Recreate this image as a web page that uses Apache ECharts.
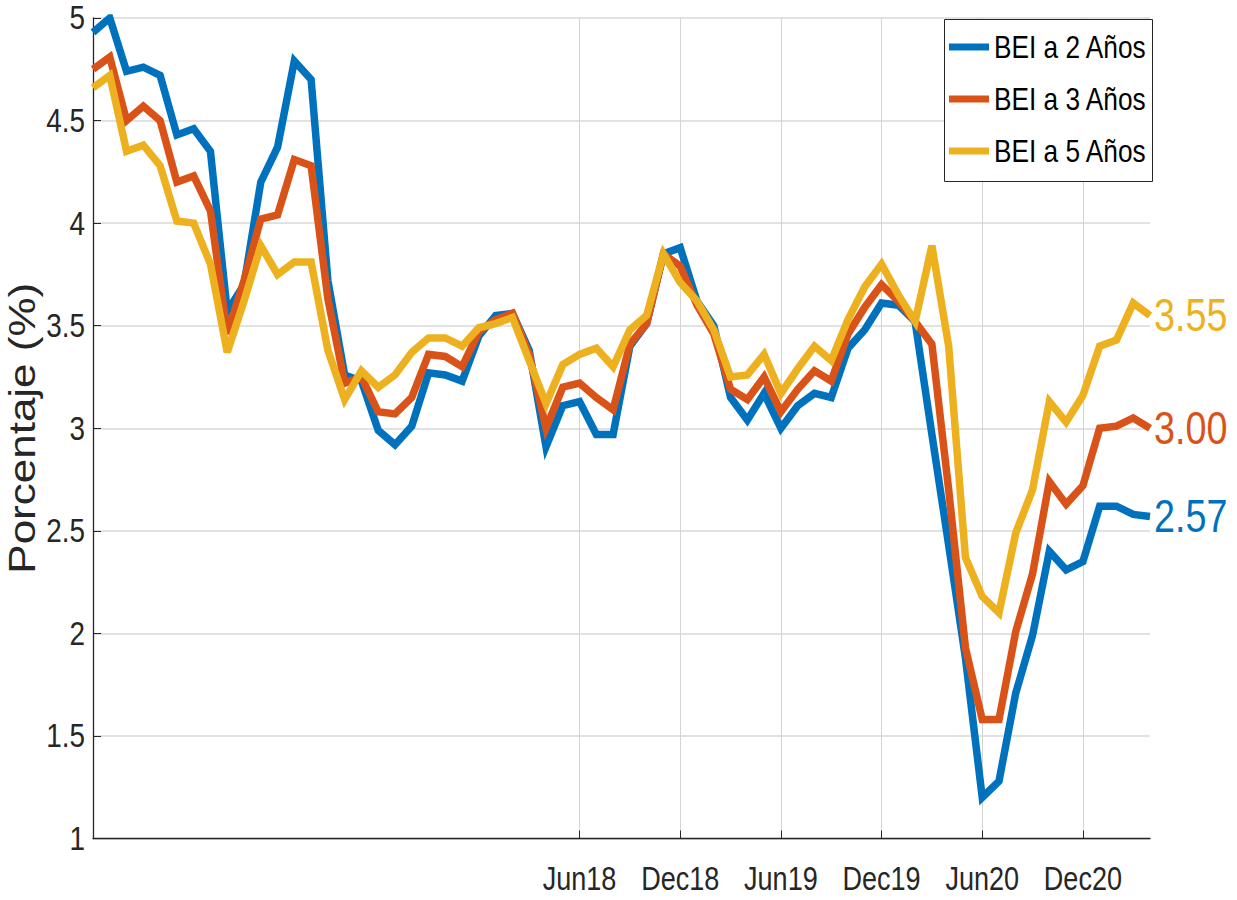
<!DOCTYPE html>
<html>
<head>
<meta charset="utf-8">
<script src="https://cdn.jsdelivr.net/npm/echarts@6/dist/echarts.min.js"></script>
<style>
  html, body { margin: 0; padding: 0; background: #fff; }
  #chart { width: 1237px; height: 900px; }
</style>
</head>
<body>
<div id="chart"></div>
<script>
// Monthly break-even inflation, Jan 2016 – Apr 2021
const monthNames = ['Jan','Feb','Mar','Apr','May','Jun','Jul','Aug','Sep','Oct','Nov','Dec'];
const categories = [];
for (let y = 16; y <= 21; y++) {
  for (let m = 0; m < 12; m++) {
    if (y === 21 && m > 3) break;
    categories.push(monthNames[m] + y);
  }
}
const tickLabels = ['Jun18', 'Dec18', 'Jun19', 'Dec19', 'Jun20', 'Dec20'];

const bei2 = [4.93, 5.00, 4.74, 4.76, 4.72, 4.43, 4.46, 4.35, 3.57, 3.70,
  4.20, 4.37, 4.79, 4.70, 3.72, 3.26, 3.23, 2.99, 2.92, 3.01,
  3.27, 3.26, 3.23, 3.45, 3.55, 3.56, 3.38, 2.91, 3.11, 3.13,
  2.97, 2.97, 3.40, 3.51, 3.85, 3.88, 3.62, 3.50, 3.15, 3.04,
  3.17, 3.00, 3.11, 3.17, 3.15, 3.39, 3.48, 3.61, 3.60, 3.52,
  2.97, 2.43, 1.88, 1.20, 1.28, 1.71, 1.99, 2.40, 2.31, 2.35,
  2.62, 2.62, 2.58, 2.57];
const bei3 = [4.75, 4.81, 4.50, 4.57, 4.50, 4.20, 4.23, 4.06, 3.46, 3.72,
  4.02, 4.04, 4.31, 4.28, 3.63, 3.22, 3.25, 3.08, 3.07, 3.15,
  3.36, 3.35, 3.30, 3.47, 3.53, 3.56, 3.36, 3.00, 3.20, 3.22,
  3.15, 3.09, 3.41, 3.51, 3.85, 3.79, 3.60, 3.46, 3.19, 3.14,
  3.25, 3.08, 3.19, 3.28, 3.23, 3.46, 3.59, 3.70, 3.62, 3.52,
  3.41, 2.70, 1.93, 1.58, 1.58, 2.01, 2.29, 2.74, 2.63, 2.72,
  3.00, 3.01, 3.05, 3.00];
const bei5 = [4.66, 4.72, 4.35, 4.38, 4.28, 4.01, 4.00, 3.80, 3.37, 3.62,
  3.89, 3.75, 3.81, 3.81, 3.38, 3.14, 3.28, 3.20, 3.26, 3.37,
  3.44, 3.44, 3.40, 3.49, 3.51, 3.54, 3.33, 3.12, 3.31, 3.36,
  3.39, 3.30, 3.48, 3.55, 3.85, 3.71, 3.62, 3.48, 3.25, 3.26,
  3.36, 3.17, 3.29, 3.40, 3.33, 3.53, 3.69, 3.80, 3.65, 3.52,
  3.89, 3.40, 2.37, 2.18, 2.10, 2.49, 2.70, 3.13, 3.03, 3.16,
  3.40, 3.43, 3.61, 3.55];

const seriesNames = ['BEI a 2 Años', 'BEI a 3 Años', 'BEI a 5 Años'];
const seriesColors = ['#0072BD', '#D95319', '#EDB120'];
const yName = 'Porcentaje (%)';

const FONT = '"Liberation Sans", Arial, Helvetica, sans-serif';
const NARROW = 0.82;        // horizontal squeeze applied to the lettering
const axisInk = '#262626';
const isTick = (idx) => tickLabels.indexOf(categories[idx]) >= 0;

const chart = echarts.init(document.getElementById('chart'), null, { renderer: 'svg' });

// Squeeze every text element horizontally around its own anchor point,
// so the lettering gets the tall, condensed look of the axis fonts.
function condenseText() {
  const texts = document.querySelectorAll('#chart svg text');
  texts.forEach((t) => {
    if (t.getAttribute('data-condensed')) return;
    const x = parseFloat(t.getAttribute('x')) || 0;
    const y = parseFloat(t.getAttribute('y')) || 0;
    const base = t.getAttribute('transform') || '';
    const rotated = t.textContent.indexOf('Porcentaje') >= 0;
    const sc = rotated ? `scale(1 ${NARROW})` : `scale(${NARROW} 1)`;
    t.setAttribute('transform', `${base} translate(${x} ${y}) ${sc} translate(${-x} ${-y})`.trim());
    t.setAttribute('data-condensed', '1');
  });
}
chart.on('finished', condenseText);

const series = [bei2, bei3, bei5].map((vals, k) => ({
  name: seriesNames[k],
  type: 'line',
  data: vals,
  showSymbol: false,
  symbol: 'none',
  z: 2 + k,
  lineStyle: { width: 7.5, color: seriesColors[k], join: 'miter' },
  itemStyle: { color: seriesColors[k] },
  endLabel: {
    show: true,
    formatter: (p) => Number(p.value).toFixed(2),
    color: seriesColors[k],
    fontFamily: FONT,
    fontSize: 46,
    distance: 4
  },
  emphasis: { disabled: true },
  animation: false
}));

chart.setOption({
  animation: false,
  grid: { left: 93, right: 87, top: 18, bottom: 61.5, containLabel: false, outerBoundsMode: 'none' },
  // legend frame
  graphic: [{
    type: 'rect',
    left: 944, top: 19, z: 3,
    shape: { width: 208, height: 162 },
    style: { fill: '#ffffff', stroke: axisInk, lineWidth: 1 }
  }],
  legend: {
    data: seriesNames,
    orient: 'vertical',
    left: 944,
    top: 19,
    icon: 'rect',
    itemWidth: 40,
    itemHeight: 7,
    itemGap: 20,
    padding: [12, 9, 12, 5],
    textStyle: { fontFamily: FONT, fontSize: 32, color: '#000' }
  },
  xAxis: {
    type: 'category',
    data: categories,
    boundaryGap: false,
    axisLine: { show: true, lineStyle: { color: axisInk, width: 1.3 } },
    axisTick: {
      show: true, inside: true, length: 8,
      interval: (idx) => isTick(idx),
      lineStyle: { color: axisInk, width: 1 }
    },
    axisLabel: {
      interval: (idx) => isTick(idx),
      fontFamily: FONT, fontSize: 33, color: axisInk, margin: 24
    },
    splitLine: {
      show: true,
      interval: (idx) => isTick(idx),
      lineStyle: { color: '#d4d4d4', width: 1 }
    }
  },
  yAxis: {
    type: 'value',
    min: 1, max: 5, interval: 0.5,
    name: yName,
    nameLocation: 'middle',
    nameGap: 48,
    nameMoveOverlap: false,
    nameTextStyle: { fontFamily: FONT, fontSize: 44, color: axisInk },
    axisLine: { show: true, lineStyle: { color: axisInk, width: 1.3 } },
    axisTick: { show: true, inside: true, length: 8, lineStyle: { color: axisInk, width: 1 } },
    axisLabel: { fontFamily: FONT, fontSize: 34, color: axisInk, margin: 8 },
    splitLine: { show: true, lineStyle: { color: '#e2e2e2', width: 2 } }
  },
  series: series
});
</script>
</body>
</html>
